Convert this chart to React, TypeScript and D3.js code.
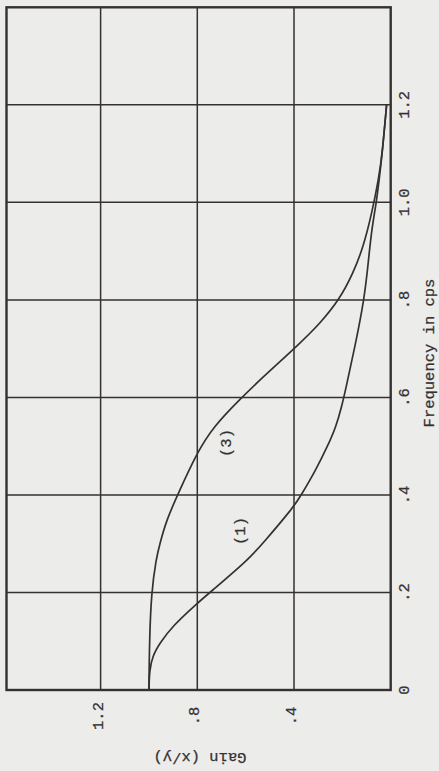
import React from "react";
import * as d3 from "d3";

const freqTicks = [0, 0.2, 0.4, 0.6, 0.8, 1.0, 1.2];
const freqTickLabels = ["0", ".2", ".4", ".6", ".8", "1.0", "1.2"];
const freqGrid = [0.2, 0.4, 0.6, 0.8, 1.0, 1.2];
const gainTicks = [1.2, 0.8, 0.4];
const gainTickLabels = ["1.2", ".8", ".4"];
const gainGrid = [0.4, 0.8, 1.2];

const curve1Freq = [0, 0.04, 0.07, 0.096, 0.13, 0.178, 0.2, 0.267, 0.3, 0.376, 0.4, 0.451, 0.499, 0.54, 0.581, 0.615, 0.711, 0.8, 0.875, 0.944, 1.0, 1.05, 1.1, 1.2];
const curve1Gain = [1.0, 0.998, 0.985, 0.955, 0.905, 0.8, 0.748, 0.59, 0.53, 0.4, 0.37, 0.31, 0.262, 0.226, 0.203, 0.187, 0.145, 0.11, 0.093, 0.079, 0.059, 0.047, 0.035, 0.017];

const curve3Freq = [0, 0.1, 0.2, 0.27, 0.3, 0.349, 0.403, 0.486, 0.54, 0.6, 0.636, 0.711, 0.752, 0.8, 0.855, 0.909, 0.978, 1.05, 1.1, 1.2];
const curve3Gain = [1.0, 0.998, 0.99, 0.97, 0.955, 0.927, 0.879, 0.802, 0.734, 0.616, 0.541, 0.375, 0.292, 0.213, 0.155, 0.113, 0.078, 0.049, 0.035, 0.017];

const curveLabels = ["(1)", "(3)"];
const xTitle = "Frequency in cps";
const yTitle = "Gain (x/y)";

const W = 439;
const H = 771;
const ink = "#363131";
const font = "'Liberation Mono', 'DejaVu Sans Mono', monospace";

export default function App() {
  // gain runs right-to-left (horizontal), frequency bottom-to-top (vertical)
  const x = d3.scaleLinear().domain([0, 1.6]).range([390.7, 3.9]);
  const y = d3.scaleLinear().domain([0, 1.4]).range([690, 7.3]);
  const left = 6.5;

  const line = d3
    .line<[number, number]>()
    .x((d) => x(d[1]))
    .y((d) => y(d[0]))
    .curve(d3.curveBasis);

  const c1 = curve1Freq.map((f, i) => [f, curve1Gain[i]] as [number, number]);
  const c3 = curve3Freq.map((f, i) => [f, curve3Gain[i]] as [number, number]);

  const textProps = {
    textAnchor: "middle" as const,
    dominantBaseline: "central" as const,
    fontSize: 15.5,
    fill: ink,
    stroke: ink,
    strokeWidth: 0.25,
  };

  return (
    <svg
      width={W}
      height={H}
      style={{ position: "absolute", left: 0, top: 0, background: "#ececeb" }}
      fontFamily={font}
    >
      <rect x={0} y={0} width={W} height={H} fill="#ececeb" />
      {freqGrid.map((f) => (
        <line key={"fg" + f} x1={left} x2={x(0)} y1={y(f)} y2={y(f)} stroke={ink} strokeWidth={1.5} />
      ))}
      {gainGrid.map((g) => (
        <line key={"gg" + g} x1={x(g)} x2={x(g)} y1={y(0)} y2={y(1.4)} stroke={ink} strokeWidth={1.5} />
      ))}
      <rect
        x={left}
        y={y(1.4)}
        width={x(0) - left}
        height={y(0) - y(1.4)}
        fill="none"
        stroke={ink}
        strokeWidth={2.4}
      />
      <path d={line(c1) || ""} fill="none" stroke={ink} strokeWidth={1.7} />
      <path d={line(c3) || ""} fill="none" stroke={ink} strokeWidth={1.7} />

      {freqTicks.map((f, i) => (
        <text key={"ft" + f} transform={`translate(${405},${y(f)}) rotate(-90)`} {...textProps}>
          {freqTickLabels[i]}
        </text>
      ))}
      <text transform={`translate(${430},${353}) rotate(-90)`} {...textProps}>
        {xTitle}
      </text>

      {gainTicks.map((g, i) => (
        <text key={"gt" + g} transform={`translate(${x(g) - 2},${716}) rotate(-90)`} {...textProps}>
          {gainTickLabels[i]}
        </text>
      ))}
      <text transform={`translate(${200},${757}) rotate(180)`} {...textProps}>
        {yTitle}
      </text>

      <text transform={`translate(${241},${531}) rotate(-90)`} {...textProps}>
        {curveLabels[0]}
      </text>
      <text transform={`translate(${227},${443}) rotate(-90)`} {...textProps}>
        {curveLabels[1]}
      </text>
    </svg>
  );
}
